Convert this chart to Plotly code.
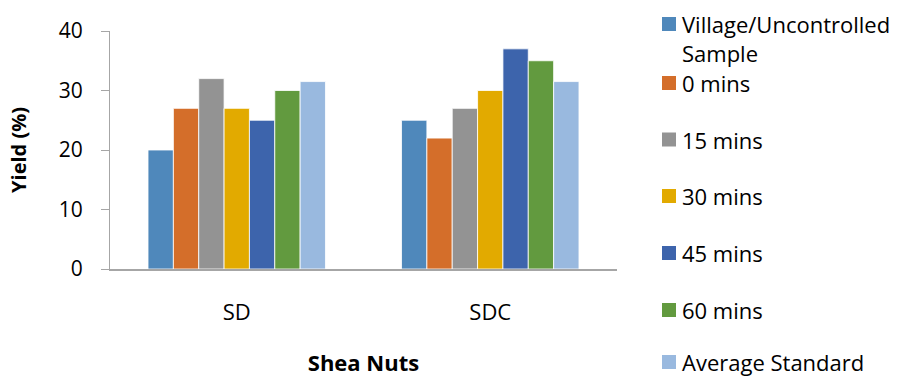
import textwrap
import plotly.graph_objects as go

# Shea nut yield by drying treatment
categories = ["SD", "SDC"]
series_names = [
    "Village/Uncontrolled Sample",
    "0 mins",
    "15 mins",
    "30 mins",
    "45 mins",
    "60 mins",
    "Average Standard",
]
series_values = [
    [20, 25],
    [27, 22],
    [32, 27],
    [27, 30],
    [25, 37],
    [30, 35],
    [31.5, 31.5],
]
colors = ["#4F88BB", "#D46E2A", "#939393", "#E2AA00", "#3D64AC", "#629A3F", "#99B9DF"]
y_ticks = [0, 10, 20, 30, 40]

W, H = 908, 378
L, R, T, B = 110, 617, 31, 269  # plot area in pixels
FONT = "Open Sans"


def px_x(px):
    return (px - L) / (R - L)


def px_y(py):
    return (B - py) / (B - T)


fig = go.Figure()
for name, vals, col in zip(series_names, series_values, colors):
    fig.add_trace(go.Bar(
        x=categories, y=vals, name=name,
        marker=dict(color=col, line=dict(color="rgba(255,255,255,0.8)", width=1)),
        showlegend=False,
    ))

# Hand-placed legend on the right
legend_rows = [24, 83, 139.5, 196, 253, 310, 362]
line_step = 28.5
for name, col, yc in zip(series_names, colors, legend_rows):
    fig.add_shape(type="rect", xref="paper", yref="paper",
                  x0=px_x(662), x1=px_x(676), y0=px_y(yc + 7), y1=px_y(yc - 7),
                  fillcolor=col, line=dict(width=0))
    lines = textwrap.wrap(name, 20)
    fig.add_annotation(xref="paper", yref="paper", x=px_x(680),
                       y=px_y(yc + (len(lines) - 1) * line_step / 2),
                       text="<br>".join(lines), showarrow=False, align="left",
                       xanchor="left", yanchor="middle",
                       font=dict(family=FONT, size=22, color="#000000"))

fig.update_layout(
    width=W, height=H,
    margin=dict(l=L, r=W - R, t=T, b=H - B),
    plot_bgcolor="white", paper_bgcolor="white",
    barmode="group", bargap=0.30, bargroupgap=0,
    font=dict(family=FONT, color="#000000"),
    xaxis=dict(
        showline=True, linecolor="#A6A6A6", linewidth=2, ticks="", automargin=False,
        tickfont=dict(size=22), ticklabelstandoff=23,
        title=dict(text="<b>Shea Nuts</b>", font=dict(size=22), standoff=30),
    ),
    yaxis=dict(
        range=[0, 40], tickvals=y_ticks, showline=True, linecolor="#A6A6A6", linewidth=1,
        ticks="outside", ticklen=8, tickcolor="#A6A6A6", showgrid=False, zeroline=False,
        automargin=False, tickfont=dict(size=21), ticklabelstandoff=14,
        title=dict(text="<b>Yield (%)</b>", font=dict(size=20), standoff=26),
    ),
)

fig.write_html("out.html")
